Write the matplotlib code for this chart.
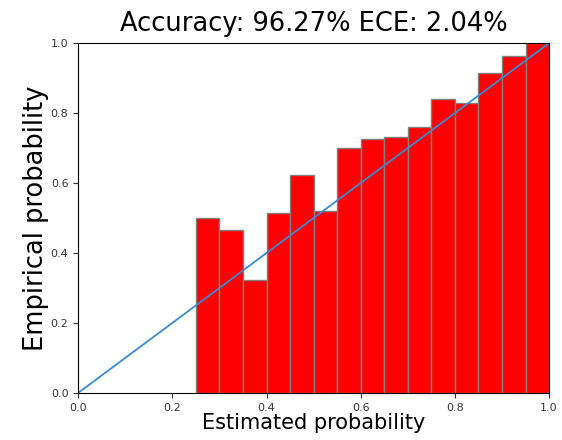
import matplotlib
matplotlib.use("Agg")
import matplotlib.pyplot as plt
import numpy as np

bin_lefts = [0.25, 0.30, 0.35, 0.40, 0.45, 0.50, 0.55, 0.60, 0.65, 0.70, 0.75, 0.80, 0.85, 0.90, 0.95]
accuracies = [0.50, 0.466, 0.323, 0.514, 0.623, 0.520, 0.700, 0.726, 0.733, 0.759, 0.841, 0.828, 0.916, 0.964, 1.0]
bin_width = 0.05
diag = [0.0, 1.0]
title = "Accuracy: 96.27% ECE: 2.04%"

fig = plt.figure(figsize=(5.62, 4.4), dpi=100)
ax = fig.add_axes([0.139, 0.107, 0.838, 0.795])
ax.bar(bin_lefts, accuracies, width=bin_width, align="edge", color="red", edgecolor="grey", linewidth=1)
ax.plot(diag, diag, color="#3a8ad0", linewidth=1.3)
ax.set_xlim(0, 1)
ax.set_ylim(0, 1)
ax.set_xticks([0.0, 0.2, 0.4, 0.6, 0.8, 1.0])
ax.set_yticks([0.0, 0.2, 0.4, 0.6, 0.8, 1.0])
ax.tick_params(labelsize=8, colors="#333333")
ax.set_title(title, fontsize=18.5, pad=9)
ax.set_xlabel("Estimated probability", fontsize=15, labelpad=0)
ax.set_ylabel("Empirical probability", fontsize=18.5, labelpad=1)
fig.savefig("out.png", dpi=100)
